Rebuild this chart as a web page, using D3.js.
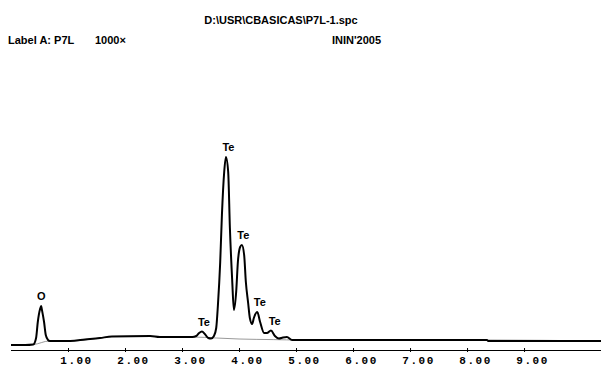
<!DOCTYPE html>
<html>
<head>
<meta charset="utf-8">
<script src="https://cdn.jsdelivr.net/npm/d3@7"></script>
<style>
	body { margin: 0; background: #fff; }
	.hdr { font-family: "Liberation Sans", Arial, sans-serif; font-weight: bold; font-size: 11px; fill: #000; }
	.peak { font-family: "Liberation Sans", Arial, sans-serif; font-weight: bold; font-size: 11px; fill: #000; }
	.axis text { font-family: "Liberation Mono", "DejaVu Sans Mono", monospace; font-weight: bold; font-size: 11px; letter-spacing: 1.5px; }
</style>
</head>
<body>
<div id="chart"></div>
<script>
// spectrum (energy keV, counts arb.)
var energy = [0.00, 0.25, 0.39, 0.44, 0.47, 0.51, 0.53, 0.54, 0.58, 0.61, 0.65, 0.68, 1.04, 1.30, 1.56, 1.77,
	2.44, 2.61, 3.18, 3.25, 3.30, 3.35, 3.40, 3.46, 3.51, 3.56, 3.60, 3.63, 3.67, 3.70, 3.74, 3.77,
	3.81, 3.84, 3.88, 3.91, 3.95, 3.98, 4.02, 4.05, 4.09, 4.12, 4.16, 4.19, 4.23, 4.26, 4.32, 4.37,
	4.44, 4.49, 4.56, 4.63, 4.70, 4.77, 4.84, 4.93, 5.07, 8.35, 8.37, 10.35];
var counts = [2.5, 2.5, 2.75, 6, 14, 20.5, 22, 20.5, 14, 7.5, 5, 4.5, 4.5, 5.25, 6, 6.75,
	7, 6.5, 6.5, 7, 8.5, 9.25, 8, 6, 5.75, 7, 11, 22.5, 44, 67.5, 89, 96.5,
	89, 61, 35, 20, 29, 44, 51.5, 52.5, 47.5, 34, 23.5, 16, 13, 16, 19, 14,
	8.5, 8.5, 9.75, 7, 5.75, 6.25, 6.5, 5, 5, 5, 4.5, 4.5];

// fitted background (grey line)
var bgEnergy = [0.00, 0.39, 0.67, 1.04, 1.56, 1.77, 2.44, 2.61, 3.18, 3.60, 4.00, 4.60, 5.07, 8.35, 10.35];
var bgCounts = [2.5, 2.75, 4.5, 4.5, 6, 6.75, 7, 6.5, 6.5, 6, 5.5, 5.2, 5, 5, 4.5];

var peakNames = ["O", "Te", "Te", "Te", "Te", "Te"];
var peakEnergy = [0.53, 3.35, 3.78, 4.04, 4.33, 4.59];
var peakCounts = [22, 9.25, 96.5, 52.5, 19, 9.75];

var tickValues = [1, 2, 3, 4, 5, 6, 7, 8, 9];

var title = "D:\\USR\\CBASICAS\\P7L-1.spc";
var labelA = "Label A: P7L";
var magn = "1000\u00d7";
var inst = "ININ'2005";

var W = 601, H = 373;
var svg = d3.select("#chart").append("svg")
	.attr("width", W)
	.attr("height", H);

var x = d3.scaleLinear().domain([0, 10.35]).range([11, 601]);
var y = d3.scaleLinear().domain([0, 100]).range([350, 150]);

svg.append("text").attr("class", "hdr")
	.attr("x", 281).attr("y", 24)
	.attr("text-anchor", "middle")
	.text(title);
svg.append("text").attr("class", "hdr").attr("x", 8).attr("y", 44).text(labelA);
svg.append("text").attr("class", "hdr").attr("x", 95).attr("y", 44).text(magn);
svg.append("text").attr("class", "hdr").attr("x", 332).attr("y", 44).text(inst);

// axis
var axis = svg.append("g")
	.attr("class", "axis")
	.attr("transform", "translate(0,350)")
	.call(d3.axisBottom(x).tickValues(tickValues).tickSize(2).tickSizeOuter(0).tickFormat(d3.format(".2f")));
axis.select(".domain").attr("d", "M11,0.5H601").attr("stroke", "#000");
axis.selectAll(".tick line").attr("y1", -2).attr("stroke", "#000");
axis.selectAll(".tick text").attr("dx", 8).attr("y", 6).attr("dy", "0.71em");

var bg = energy.map(function(d, i) { return [d, counts[i]]; });
var bgLine = bgEnergy.map(function(d, i) { return [d, bgCounts[i]]; });

var line = d3.line()
	.x(function(d) { return x(d[0]); })
	.y(function(d) { return y(d[1]); })
	.curve(d3.curveMonotoneX);

svg.append("path")
	.datum(bgLine)
	.attr("fill", "none")
	.attr("stroke", "#999")
	.attr("stroke-width", 1)
	.attr("d", line);

svg.append("path")
	.datum(bg)
	.attr("fill", "none")
	.attr("stroke", "#000")
	.attr("stroke-width", 2)
	.attr("d", line);

svg.selectAll(".peak")
	.data(peakNames)
	.enter().append("text")
	.attr("class", "peak")
	.attr("text-anchor", "middle")
	.attr("x", function(d, i) { return x(peakEnergy[i]) + (d == "Te" ? 2 : 0); })
	.attr("y", function(d, i) { return y(peakCounts[i]) - 6; })
	.text(function(d) { return d; });
</script>
</body>
</html>
